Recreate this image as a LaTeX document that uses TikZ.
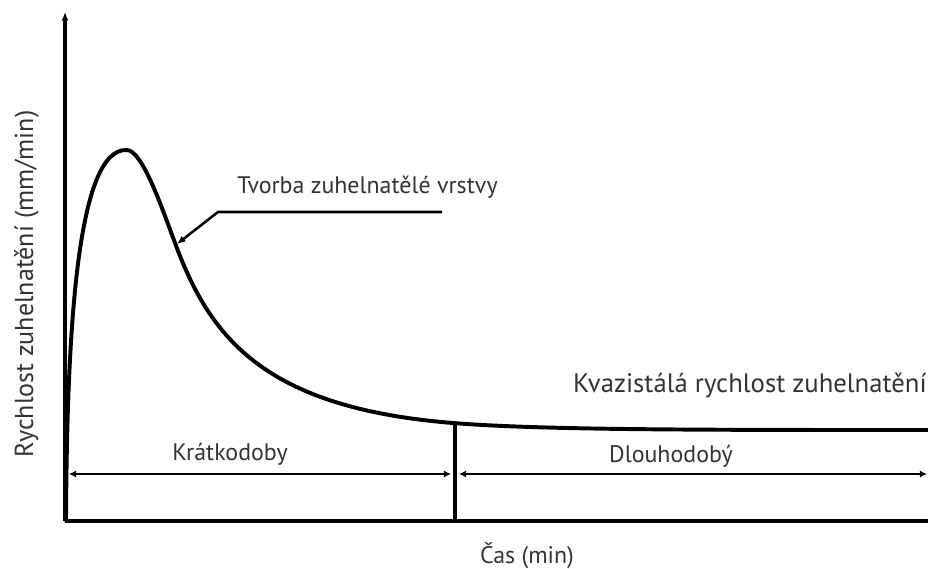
\documentclass[tikz,border=0pt]{standalone}
\usepackage{fontspec}
\setmainfont{PT Sans}
\usetikzlibrary{arrows.meta}
\begin{document}
\begin{tikzpicture}[x=0.025cm,y=-0.025cm,
  axis/.style={line width=2.2pt},
  span/.style={line width=1.8pt,{Latex[length=5pt,width=5pt]}-{Latex[length=5pt,width=5pt]}},
  rate/.style={line width=2.8pt,line cap=round,line join=round},
  txt/.style={inner sep=0pt,text=black!80,font=\fontsize{17}{20}\selectfont}]
\useasboundingbox (0,0) rectangle (928,568);
% axes
\coordinate (O) at (65,521);
\coordinate (ytop) at (65,12);
\coordinate (xend) at (928,521);
\draw [axis,-{Latex[length=6pt,width=5pt]}] (O) -- (ytop);
\draw [axis] (O) -- (xend);
% divider between the two periods
\coordinate (divtop) at (455,425);
\coordinate (divbot) at (455,521);
\draw [axis] (divbot) -- (divtop);
% period spans
\coordinate (k1) at (69,474);
\coordinate (k2) at (451,474);
\coordinate (d1) at (459,474);
\coordinate (d2) at (927,474);
\draw [span] (k1) -- (k2);
\draw [span] (d1) -- (d2);
% charring rate curve
\coordinate (c0) at (66,521);
\coordinate (peak) at (126.7,150);
\coordinate (infl) at (175,243);
\coordinate (knee) at (453,423);
\coordinate (c9) at (928,430);
\draw [rate] (c0) .. controls (67,330) and (77,148) .. (peak)
  .. controls (142,150) and (161.1,205.5) .. (infl)
  .. controls (209.7,336.8) and (263,407.8) .. (knee)
  .. controls (540,430) and (700,430) .. (c9);
% leader to the curve
\coordinate (lead) at (442,212);
\coordinate (bend) at (218,212);
\coordinate (onc) at (177,244);
\draw [line width=1.8pt,-{Latex[length=6pt,width=5pt]}] (lead) -- (bend) -- (onc);
% labels
\node [txt,anchor=base west] (tvorba) at (237,193) {Tvorba zuhelnatělé vrstvy};
\node [txt,anchor=base east,font=\fontsize{19}{22}\selectfont] (kvazi) at (927,392) {Kvazistálá rychlost zuhelnatění};
\node [txt,anchor=base] (kratko) at (230,460) {Krátkodoby};
\node [txt,anchor=base] (dlouho) at (671,462) {Dlouhodobý};
\node [txt,anchor=base] (cas) at (527,563) {Čas (min)};
\node [txt,anchor=base,rotate=90,font=\fontsize{18.5}{22}\selectfont] (rychl) at (33,284) {Rychlost zuhelnatění (mm/min)};
\end{tikzpicture}
\end{document}
